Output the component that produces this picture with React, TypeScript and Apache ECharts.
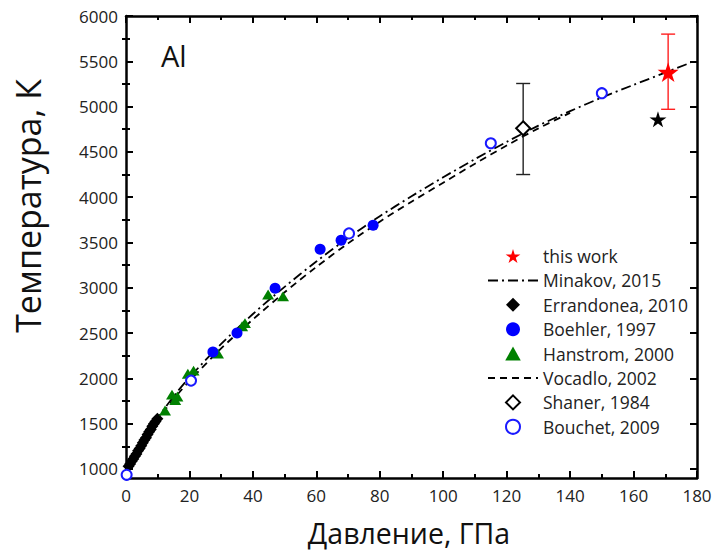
import React, { useEffect, useRef } from "react";
import * as echarts from "echarts";

// Pressure (GPa) / temperature (K) melting data for aluminium
const thisWork: number[][] = [[170.9, 5380]];
const thisWorkErr: number[][] = [[170.9, 4970, 5800]];
const otherStar: number[][] = [[167.7, 4860]];

const minakov2015: number[][] = [
  [0, 933], [5, 1270], [10, 1560], [15, 1800], [20, 2010], [30, 2380], [40, 2710],
  [50, 3010], [60, 3290], [70, 3550], [80, 3790], [90, 4010], [100, 4220], [110, 4420],
  [120, 4610], [130, 4790], [140, 4950], [150, 5100], [160, 5240], [170, 5375], [178, 5485],
];
const vocadlo2002: number[][] = [
  [0, 933], [5, 1250], [10, 1540], [15, 1770], [20, 1970], [30, 2330], [40, 2650],
  [50, 2950], [60, 3230], [70, 3490], [80, 3730], [90, 3950], [100, 4160], [110, 4370],
  [120, 4570], [130, 4760], [140, 4930],
];
const errandonea2010: number[][] = [
  [0.8, 1030], [1.3, 1055], [1.8, 1085], [2.3, 1110], [2.8, 1140], [3.3, 1165], [3.8, 1200],
  [4.3, 1225], [4.8, 1255], [5.3, 1290], [5.8, 1320], [6.3, 1345], [6.8, 1380], [7.3, 1410],
  [7.8, 1435], [8.3, 1470], [8.8, 1500], [9.3, 1525], [9.9, 1555],
];
const boehler1997: number[][] = [
  [27.4, 2290], [35.0, 2500], [47.0, 2995], [61.2, 3425], [67.8, 3525], [77.9, 3690],
];
const hanstrom2000: number[][] = [
  [12.3, 1645], [14.5, 1820], [15.5, 1760], [16.2, 1800], [19.5, 2050], [21.3, 2085],
  [29.0, 2275], [36.6, 2575], [37.5, 2610], [44.8, 2925], [49.5, 2905],
];
const shaner1984: number[][] = [[125.2, 4760]];
const shanerErr: number[][] = [[125.2, 4250, 5255]];
const bouchet2009: number[][] = [[0.2, 935], [20.5, 1975], [70.3, 3600], [115, 4595], [150, 5148]];

// Axis ranges and tick positions
const xRange = { min: 0, max: 180, interval: 20 };
const yRange = { min: 900, max: 6000 };
const yMajorTicks = [1000, 1500, 2000, 2500, 3000, 3500, 4000, 4500, 5000, 5500, 6000];
const yMinorTicks = [1250, 1750, 2250, 2750, 3250, 3750, 4250, 4750, 5250, 5750];

const legendOrder = [
  "this work",
  "Minakov, 2015",
  "Errandonea, 2010",
  "Boehler, 1997",
  "Hanstrom, 2000",
  "Vocadlo, 2002",
  "Shaner, 1984",
  "Bouchet, 2009",
];
const lineSeriesNames = ["Minakov, 2015", "Vocadlo, 2002"];

// Marker shapes (paths keep their aspect ratio in the legend too)
const STAR = "path://M50,0 L61,35 L98,35 L68,57 L79,91 L50,70 L21,91 L32,57 L2,35 L39,35 Z";
const DIAMOND = "path://M5,0 L10,5 L5,10 L0,5 Z";
const TRIANGLE = "path://M5,0 L10,9 L0,9 Z";
const FONT = "'Open Sans', 'Liberation Sans', sans-serif";

function errorBars(color: string) {
  return (params: any, api: any) => {
    const x = api.value(0);
    const lo = api.coord([x, api.value(1)]);
    const hi = api.coord([x, api.value(2)]);
    const w = 7;
    const style = { stroke: color, lineWidth: 1.4 };
    return {
      type: "group",
      children: [
        { type: "line", shape: { x1: lo[0], y1: lo[1], x2: hi[0], y2: hi[1] }, style },
        { type: "line", shape: { x1: lo[0] - w, y1: lo[1], x2: lo[0] + w, y2: lo[1] }, style },
        { type: "line", shape: { x1: hi[0] - w, y1: hi[1], x2: hi[0] + w, y2: hi[1] }, style },
      ],
    };
  };
}

export default function App() {
  const ref = useRef<HTMLDivElement>(null);

  useEffect(() => {
    if (!ref.current) return;
    const chart = echarts.init(ref.current, undefined, { renderer: "svg" });

    const axisLine = { show: true, onZero: false, lineStyle: { color: "#000", width: 2.5 } };
    const tickStyle = { color: "#000", width: 2 };
    const majorTick = { show: true, inside: true, length: 7, lineStyle: tickStyle };
    const minorTickX = { show: true, splitNumber: 2, length: 4, lineStyle: tickStyle };
    const labelStyle = { color: "#222", fontSize: 17, fontFamily: FONT };

    const yMajor = (position: string, labels: boolean) => ({
      type: "value", position, ...yRange,
      axisLine,
      axisTick: { ...majorTick, customValues: yMajorTicks },
      axisLabel: labels
        ? { ...labelStyle, margin: 8, customValues: yMajorTicks, formatter: (v: number) => String(v) }
        : { show: false },
      splitLine: { show: false },
    });
    const yMinor = (position: string) => ({
      type: "value", position, ...yRange,
      axisLine: { show: false },
      axisTick: { show: true, inside: true, length: 4, lineStyle: tickStyle, customValues: yMinorTicks },
      axisLabel: { show: false },
      splitLine: { show: false },
    });

    chart.setOption({
      animation: false,
      backgroundColor: "#fff",
      grid: { left: 126, right: 18, top: 16, bottom: 73 },
      xAxis: [
        {
          type: "value", position: "bottom", ...xRange,
          axisLine, axisTick: majorTick, minorTick: minorTickX,
          axisLabel: { ...labelStyle, margin: 9 },
          splitLine: { show: false },
        },
        {
          type: "value", position: "top", ...xRange,
          axisLine, axisTick: majorTick, minorTick: minorTickX,
          axisLabel: { show: false }, splitLine: { show: false },
        },
      ],
      yAxis: [yMajor("left", true), yMajor("right", false), yMinor("left"), yMinor("right")],
      legend: {
        data: legendOrder.map((name) =>
          lineSeriesNames.includes(name)
            ? { name, itemStyle: { opacity: 0, color: "transparent", borderWidth: 0 } }
            : { name }
        ),
        orient: "vertical",
        left: 482,
        top: 242,
        itemWidth: 50,
        itemHeight: 14,
        itemGap: 6.4,
        textStyle: { color: "#222", fontSize: 17.5, fontFamily: FONT },
        selectedMode: false,
      },
      graphic: [
        {
          type: "text", left: 161, top: 41,
          style: { text: "Al", fontSize: 29, fontFamily: FONT, fill: "#111" },
        },
        {
          type: "text", x: 409, y: 533,
          style: { text: "Давление, ГПа", fontSize: 28.5, fontFamily: FONT, fill: "#111", align: "center", verticalAlign: "middle" },
        },
        {
          type: "text", x: 28, y: 206, rotation: Math.PI / 2,
          style: { text: "Температура, К", fontSize: 34, fontFamily: FONT, fill: "#111", align: "center", verticalAlign: "middle" },
        },
      ],
      series: [
        {
          name: "Vocadlo, 2002", type: "line", data: vocadlo2002, smooth: 0.3, symbol: "none",
          lineStyle: { color: "#000", width: 1.8, type: [7, 5] }, itemStyle: { color: "#000" }, z: 2,
        },
        {
          name: "Minakov, 2015", type: "line", data: minakov2015, smooth: 0.3, symbol: "none",
          lineStyle: { color: "#000", width: 1.8, type: [10, 4, 2, 4] }, itemStyle: { color: "#000" }, z: 2,
        },
        {
          name: "Shaner error", type: "custom", data: shanerErr, renderItem: errorBars("#222"),
          encode: { x: 0, y: [1, 2] }, z: 3,
        },
        {
          name: "this work error", type: "custom", data: thisWorkErr, renderItem: errorBars("#ff2020"),
          encode: { x: 0, y: [1, 2] }, z: 3,
        },
        {
          name: "Errandonea, 2010", type: "scatter", data: errandonea2010, symbol: DIAMOND,
          symbolSize: 12, symbolKeepAspect: true, itemStyle: { color: "#000", opacity: 1 }, z: 4,
        },
        {
          name: "Hanstrom, 2000", type: "scatter", data: hanstrom2000, symbol: TRIANGLE,
          symbolSize: [12, 11], symbolKeepAspect: true, itemStyle: { color: "#008000", opacity: 1 }, z: 4,
        },
        {
          name: "Boehler, 1997", type: "scatter", data: boehler1997, symbol: "circle",
          symbolSize: 11, symbolKeepAspect: true, itemStyle: { color: "#0000ff", opacity: 1 }, z: 5,
        },
        {
          name: "Bouchet, 2009", type: "scatter", data: bouchet2009, symbol: "circle",
          symbolSize: 10, symbolKeepAspect: true,
          itemStyle: { color: "#fff", borderColor: "#1a1aff", borderWidth: 2, opacity: 1 }, z: 5,
        },
        {
          name: "Shaner, 1984", type: "scatter", data: shaner1984, symbol: DIAMOND,
          symbolSize: 14, symbolKeepAspect: true,
          itemStyle: { color: "#fff", borderColor: "#000", borderWidth: 2, opacity: 1 }, z: 5,
        },
        {
          name: "star", type: "scatter", data: otherStar, symbol: STAR,
          symbolSize: 17, symbolKeepAspect: true, itemStyle: { color: "#000", opacity: 1 }, z: 5,
        },
        {
          name: "this work", type: "scatter", data: thisWork, symbol: STAR,
          symbolSize: 21, symbolKeepAspect: true, itemStyle: { color: "#ff0000", opacity: 1 }, z: 6,
        },
      ],
    });

    return () => chart.dispose();
  }, []);

  return <div ref={ref} style={{ width: 715, height: 551, position: "absolute", left: 0, top: 0 }} />;
}
